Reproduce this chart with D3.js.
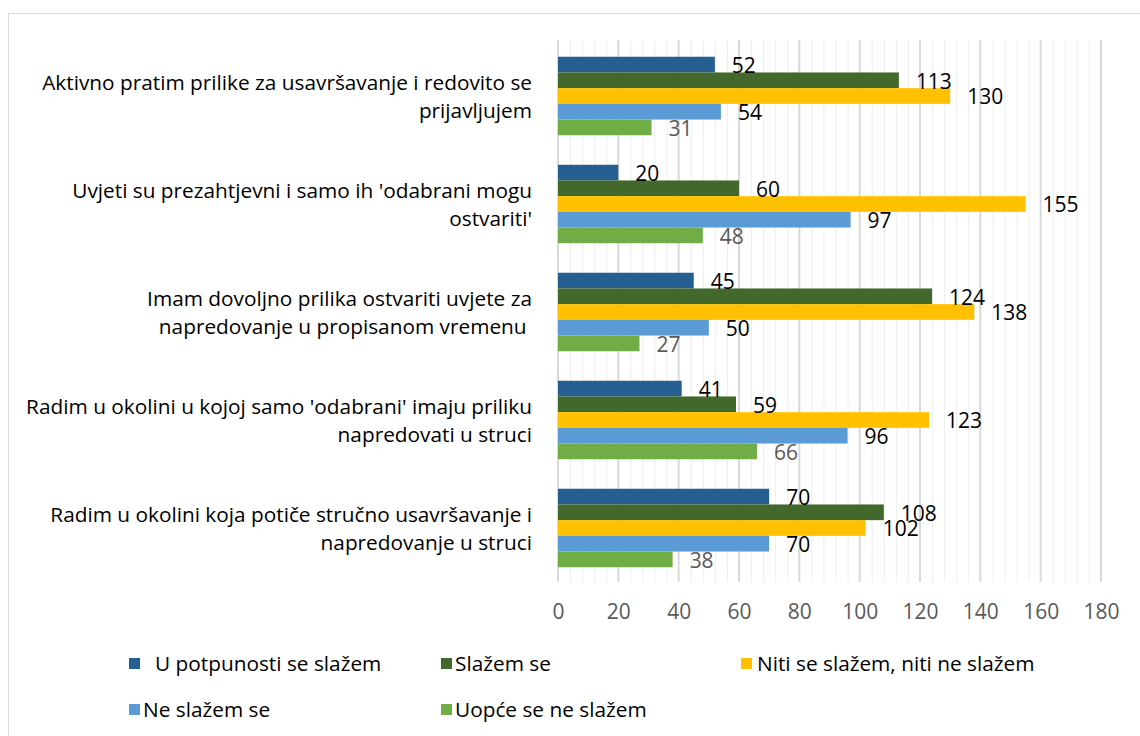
<!DOCTYPE html>
<html><head><meta charset="utf-8">
<script src="https://cdn.jsdelivr.net/npm/d3@7"></script>
<style>
html,body{margin:0;padding:0;background:#fff;}
svg{display:block;font-family:"Open Sans","Noto Sans",sans-serif;}
</style></head>
<body><svg id="chart" width="1140" height="736"></svg>
<script>
const categories = [
  "Aktivno pratim prilike za usavršavanje i redovito se prijavljujem",
  "Uvjeti su prezahtjevni i samo ih 'odabrani mogu ostvariti'",
  "Imam dovoljno prilika ostvariti uvjete za napredovanje u propisanom vremenu",
  "Radim u okolini u kojoj samo 'odabrani' imaju priliku napredovati u struci",
  "Radim u okolini koja potiče stručno usavršavanje i napredovanje u struci"
];
const categoryLines = [
  ["Aktivno pratim prilike za usavršavanje i redovito se", "prijavljujem"],
  ["Uvjeti su prezahtjevni i samo ih 'odabrani mogu", "ostvariti'"],
  ["Imam dovoljno prilika ostvariti uvjete za", "napredovanje u propisanom vremenu "],
  ["Radim u okolini u kojoj samo 'odabrani' imaju priliku", "napredovati u struci"],
  ["Radim u okolini koja potiče stručno usavršavanje i", "napredovanje u struci"]
];
const seriesNames = [" U potpunosti se slažem", "Slažem se", "Niti se slažem, niti ne slažem", "Ne slažem se", "Uopće se ne slažem"];
const uPotpunosti = [52, 20, 45, 41, 70];
const slazemSe = [113, 60, 124, 59, 108];
const nitiNiti = [130, 155, 138, 123, 102];
const neSlazem = [54, 97, 50, 96, 70];
const uopceNe = [31, 48, 27, 66, 38];
const seriesValues = [uPotpunosti, slazemSe, nitiNiti, neSlazem, uopceNe];
const colors = ["#255E91", "#43682B", "#FFC000", "#5B9BD5", "#70AD47"];
const labelColors = ["#000", "#000", "#000", "#000", "#595959"];
const xTicks = [0, 20, 40, 60, 80, 100, 120, 140, 160, 180];

const svg = d3.select("#chart");

function fitSize(str, target, base) {
  const t = svg.append("text").attr("font-size", base).text(str);
  const w = t.node().getComputedTextLength();
  t.remove();
  return base * target / w;
}
const catSize = fitSize("Aktivno pratim prilike za usavršavanje i redovito se", 490, 18);
const numSize = fitSize("130", 36, 18);

svg.append("rect").attr("x", 8.5).attr("y", 13.5).attr("width", 1160).attr("height", 760)
  .attr("fill", "#fff").attr("stroke", "#d9d9d9").attr("stroke-width", 1);

const x = d3.scaleLinear().domain([0, 180]).range([558, 1101]);
const y0 = d3.scaleBand().domain(categories).range([42, 582]).padding(0);
const y1 = d3.scaleBand().domain(d3.range(5)).range([0, y0.bandwidth()]).paddingInner(0).paddingOuter(0.94);

const minor = d3.range(0, 181, 4).filter(v => v % 20 !== 0);
svg.append("g").selectAll("line").data(minor).join("line")
  .attr("x1", d => x(d) + 0.5).attr("x2", d => x(d) + 0.5)
  .attr("y1", 40).attr("y2", 582).attr("stroke", "#eeeeee").attr("stroke-width", 1);
svg.append("g").selectAll("line").data(xTicks).join("line")
  .attr("x1", d => x(d)).attr("x2", d => x(d))
  .attr("y1", 40).attr("y2", 582).attr("stroke", "#d9d9d9").attr("stroke-width", 2);

categories.forEach((c, ci) => {
  const g = svg.append("g").attr("transform", `translate(0,${y0(c)})`);
  seriesValues.forEach((vals, si) => {
    g.append("rect").attr("x", x(0)).attr("y", y1(si))
      .attr("width", x(vals[ci]) - x(0)).attr("height", y1.bandwidth())
      .attr("fill", colors[si]);
  });
  seriesValues.forEach((vals, si) => {
    g.append("text").attr("x", x(vals[ci]) + 17).attr("y", y1(si) + y1.bandwidth() / 2 + 1)
      .attr("dy", "0.35em").attr("font-size", numSize).attr("fill", labelColors[si])
      .text(vals[ci]);
  });
  const t = svg.append("text").attr("text-anchor", "end").attr("font-size", catSize)
    .attr("fill", "#000").style("white-space", "pre");
  const cy = y0(c) + y0.bandwidth() / 2;
  categoryLines[ci].forEach((ln, li) => {
    t.append("tspan").attr("x", 532).attr("y", cy - 13 + li * 28).attr("dy", "0.35em").text(ln);
  });
});

const ax = svg.append("g").attr("transform", "translate(0,612)")
  .call(d3.axisBottom(x).tickValues(xTicks).tickSize(0).tickPadding(0));
ax.select(".domain").remove();
ax.selectAll("text").attr("font-size", numSize).attr("fill", "#595959")
  .attr("font-family", "'Open Sans','Noto Sans',sans-serif").attr("dy", "0.35em");

const legendPos = [
  {sx: 129, tx: 155, y: 664}, {sx: 441, tx: 455, y: 664}, {sx: 741, tx: 757, y: 664},
  {sx: 129, tx: 143, y: 710}, {sx: 441, tx: 455, y: 710}
];
const leg = svg.append("g");
seriesNames.forEach((n, i) => {
  const p = legendPos[i];
  leg.append("rect").attr("x", p.sx).attr("y", p.y - 6).attr("width", 11).attr("height", 11).attr("fill", colors[i]);
  leg.append("text").attr("x", p.tx).attr("y", p.y).attr("dy", "0.35em").attr("font-size", catSize)
    .attr("fill", "#000").text(n.trim());
});
</script></body></html>
